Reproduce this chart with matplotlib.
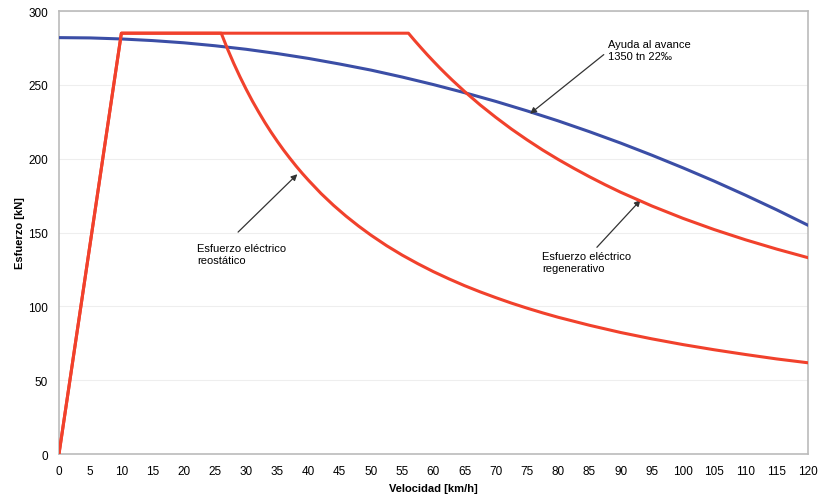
import matplotlib
matplotlib.use("Agg")
import matplotlib.pyplot as plt

plt.rcParams['font.family'] = ['Liberation Sans', 'DejaVu Sans']

# Esfuerzo eléctrico reostático (kN) vs velocidad (km/h)
v_reo = [0, 10, 26, 27, 28, 29, 30, 31, 32, 33, 34, 35, 36, 37, 38, 39, 40, 42, 44, 46, 48, 50,
         52.5, 55, 57.5, 60, 62.5, 65, 67.5, 70, 72.5, 75, 77.5, 80, 85, 90, 95, 100, 105, 110, 115, 120]
f_reo = [0, 285, 285, 274.4, 264.6, 255.5, 247, 239, 231.6, 224.5, 217.9, 211.7, 205.8, 200.3, 195, 190,
         185.3, 176.4, 168.4, 161.1, 154.4, 148.2, 141.1, 134.7, 128.9, 123.5, 118.6, 114, 109.8, 105.9,
         102.2, 98.8, 95.6, 92.6, 87.2, 82.3, 78, 74.1, 70.6, 67.4, 64.4, 61.8]

# Esfuerzo eléctrico regenerativo
v_reg = [0, 10, 56, 57, 58, 59, 60, 61, 62, 63, 64, 65, 67.5, 70, 72.5, 75, 77.5, 80, 82.5, 85, 87.5,
         90, 95, 100, 105, 110, 115, 120]
f_reg = [0, 285, 285, 280, 275.2, 270.5, 266, 261.6, 257.4, 253.3, 249.4, 245.5, 236.4, 228, 220.1,
         212.8, 205.9, 199.5, 193.5, 187.8, 182.4, 177.3, 168, 159.6, 152, 145.1, 138.8, 133]

# Ayuda al avance 1350 tn 22‰
v_ayu = [0, 5, 10, 15, 20, 25, 30, 35, 40, 45, 50, 55, 60, 65, 70, 75, 80, 85, 90, 95, 100, 105, 110, 115, 120]
f_ayu = [282, 281.8, 281.1, 280, 278.5, 276.5, 274.1, 271.2, 267.9, 264.1, 260, 255.3, 250.2, 244.7, 238.8,
         232.4, 225.6, 218.3, 210.6, 202.4, 193.8, 184.8, 175.3, 165.4, 155]

x_ticks = list(range(0, 121, 5))
y_ticks = list(range(0, 301, 50))

rojo = "#f1412c"
azul = "#3b4ea6"

fig = plt.figure(figsize=(8.26, 5.02), dpi=100)
ax = fig.add_axes([0.0714, 0.0936, 0.9066, 0.8824])

ax.plot(v_ayu, f_ayu, color=azul, lw=2.2, zorder=3)
ax.plot(v_reg, f_reg, color=rojo, lw=2.2, zorder=4, solid_joinstyle="round")
ax.plot(v_reo, f_reo, color=rojo, lw=2.2, zorder=4, solid_joinstyle="round")

ax.set_xlim(0, 120)
ax.set_ylim(0, 300)
ax.set_xticks(x_ticks)
ax.set_yticks(y_ticks)
ax.tick_params(length=0, labelsize=8.5, pad=8)
ax.grid(axis="y", color="#eeeeee", lw=0.8)
ax.set_axisbelow(True)
for s in ax.spines.values():
    s.set_color("#bbbbbb")
    s.set_linewidth(1.2)

ax.set_xlabel("Velocidad [km/h]", fontsize=8, fontweight="bold", labelpad=4)
ax.set_ylabel("Esfuerzo [kN]", fontsize=8, fontweight="bold", labelpad=2)

flecha = dict(arrowstyle="-|>", color="#333333", lw=0.9, mutation_scale=9, shrinkA=0, shrinkB=0)
ax.annotate("", xy=(75.5, 230.5), xytext=(87.3, 270.5), arrowprops=flecha)
ax.text(88, 281, "Ayuda al avance\n1350 tn 22‰", fontsize=8, va="top", ha="left", linespacing=1.2)

ax.annotate("", xy=(38.2, 189.5), xytext=(28.7, 150.3), arrowprops=flecha)
ax.text(22.1, 143, "Esfuerzo eléctrico\nreostático", fontsize=8, va="top", ha="left", linespacing=1.3)

ax.annotate("", xy=(93.2, 172), xytext=(86.2, 140), arrowprops=flecha)
ax.text(77.4, 137.5, "Esfuerzo eléctrico\nregenerativo", fontsize=8, va="top", ha="left", linespacing=1.3)

fig.savefig("out.png", dpi=100)
